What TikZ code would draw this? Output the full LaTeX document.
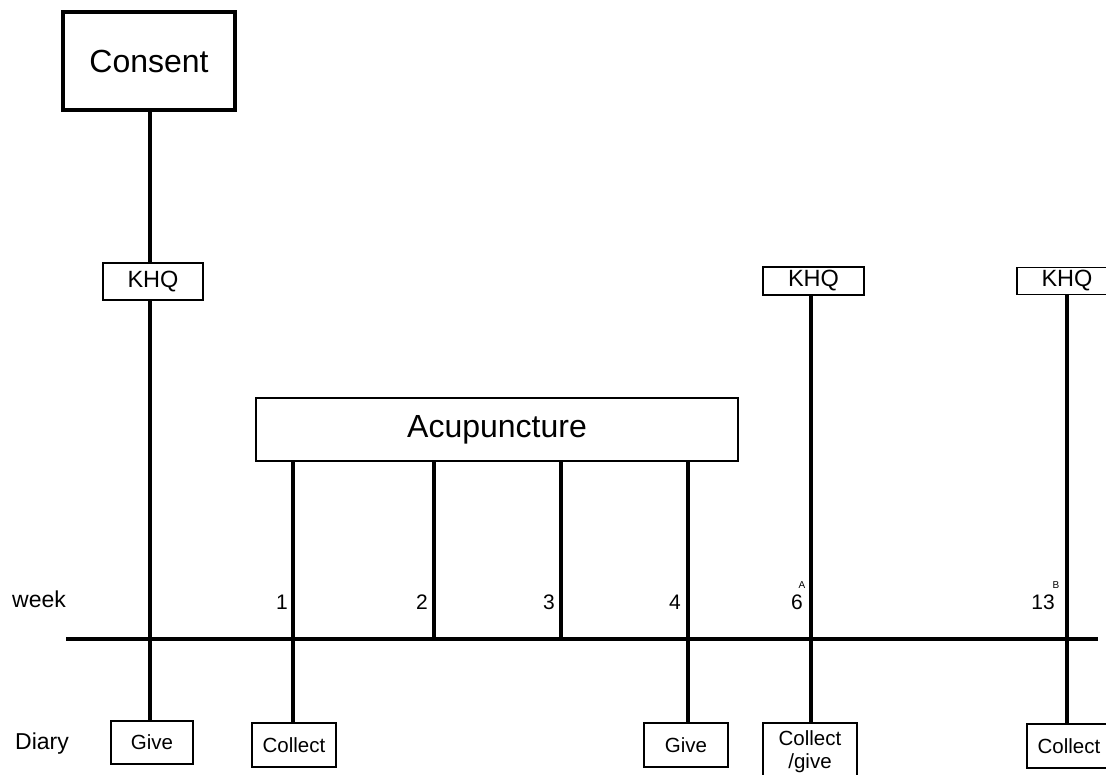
\documentclass[tikz,border=0pt]{standalone}
\usepackage{fontspec}
\setmainfont{Liberation Sans}
\begin{document}
\begin{tikzpicture}[x=1pt,y=-1pt,
  box/.style={draw,line width=1.8pt,inner sep=0pt,align=center,font=\fontsize{20.5}{23}\selectfont},
  khq/.style={box,font=\fontsize{23.5}{26}\selectfont},
  bigbox/.style={draw,line width=1.8pt,inner sep=0pt,font=\fontsize{32}{36}\selectfont},
  thickline/.style={line width=4.5pt},
  timeline/.style={line width=3.2pt},
  lbl/.style={inner sep=0pt,font=\fontsize{23}{26}\selectfont},
  num/.style={inner sep=0pt,anchor=east,font=\fontsize{21}{24}\selectfont},
  sup/.style={inner sep=0pt,font=\fontsize{10}{11}\selectfont}]
\useasboundingbox (0,0) rectangle (1106,775);
\clip (0,0) rectangle (1106,775);
% boxes
\node[bigbox,line width=4pt,minimum width=172pt,minimum height=98pt] (consent) at (149,61) {Consent};
\node[khq,minimum width=100pt,minimum height=37pt] (khq0) at (153,281.5) {KHQ};
\node[khq,minimum width=101pt,minimum height=28pt] (khq6) at (813.5,281) {KHQ};
\node[khq,minimum width=100pt,minimum height=27pt] (khq13) at (1067,281) {KHQ};
\node[bigbox,minimum width=482pt,minimum height=63pt] (acu) at (497,429.5) {Acupuncture};
\node[box,minimum width=82pt,minimum height=43pt] (give0) at (152,742.5) {Give};
\node[box,minimum width=84pt,minimum height=44pt] (coll1) at (294,745) {Collect};
\node[box,minimum width=84pt,minimum height=44pt] (give4) at (686,745) {Give};
\node[box,minimum width=94pt,minimum height=57pt] (coll6) at (810,751.5) {Collect\\/give};
\node[box,minimum width=84pt,minimum height=44pt] (coll13) at (1069,746) {Collect};
% timeline
\coordinate (tls) at (66,639);
\coordinate (tle) at (1098,639);
\draw[timeline] (tls) -- (tle);
\coordinate (w0) at (150,639);
\coordinate (w1) at (293,639);
\coordinate (w2) at (434,639);
\coordinate (w3) at (561,639);
\coordinate (w4) at (688,639);
\coordinate (w6) at (811,639);
\coordinate (w13) at (1067,639);
% week 0
\draw[thickline] (consent.south -| w0) -- (khq0.north -| w0);
\draw[thickline] (khq0.south -| w0) -- (give0.north -| w0);
% acupuncture sessions
\draw[thickline] (acu.south -| w1) -- (coll1.north -| w1);
\draw[thickline] (acu.south -| w2) -- (w2);
\draw[thickline] (acu.south -| w3) -- (w3);
\draw[thickline] (acu.south -| w4) -- (give4.north -| w4);
% week 6 and 13
\draw[thickline] (khq6.south -| w6) -- (coll6.north -| w6);
\draw[thickline] (khq13.south -| w13) -- (coll13.north -| w13);
% labels
\node[lbl,anchor=west] (week) at (12,599) {week};
\node[lbl,anchor=west] (diary) at (15,744) {Diary};
\node[num] (n1) at (288,602) {1};
\node[num] (n2) at (428,602) {2};
\node[num] (n3) at (555,602) {3};
\node[num] (n4) at (681,602) {4};
\node[num] (n6) at (803,602) {6};
\node[sup] (sa) at (802,585) {A};
\node[num] (n13) at (1055,602) {13};
\node[sup] (sb) at (1056,585) {B};
\end{tikzpicture}
\end{document}
